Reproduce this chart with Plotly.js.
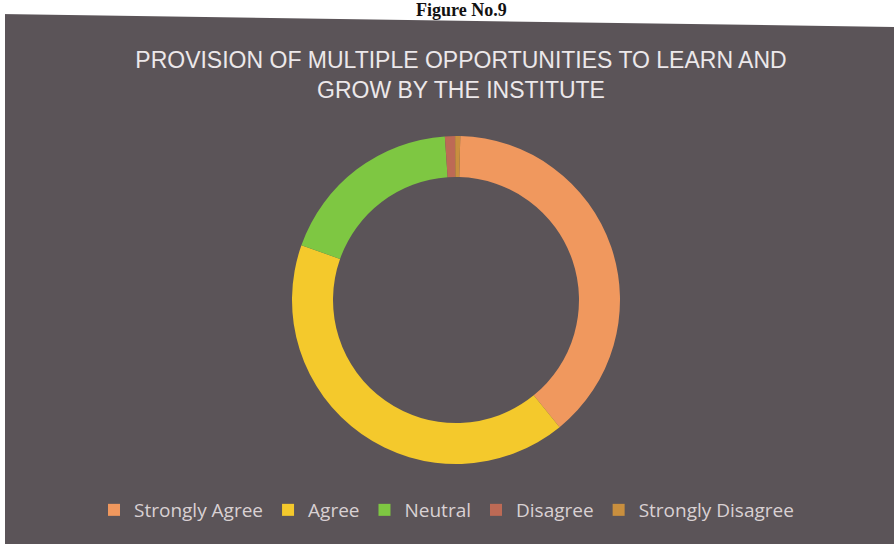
<!DOCTYPE html>
<html>
<head>
<meta charset="utf-8">
<script src="https://cdn.plot.ly/plotly-3.0.1.min.js"></script>
<style>html,body{margin:0;padding:0;background:#fff;}#chart{width:894px;height:544px;}</style>
</head>
<body>
<div id="chart"></div>
<script>
const categories = ["Strongly Agree", "Agree", "Neutral", "Disagree", "Strongly Disagree"];
const values = [38.7, 41.3, 18.5, 1.0, 0.5];
const sliceColors = ["#f0985e", "#f4c92c", "#7ec742", "#bd6a55", "#c98f3e"];
const chartTitle = "PROVISION OF MULTIPLE OPPORTUNITIES TO LEARN AND<br>GROW BY THE INSTITUTE";
const figureLabel = "Figure No.9";

const W = 894, H = 544;
const py = p => 1 - p / H;
const px = p => p / W;

const trace = {
  type: "pie",
  labels: categories,
  values: values,
  marker: {colors: sliceColors, line: {width: 0}},
  hole: 0.75,
  sort: false,
  direction: "clockwise",
  rotation: 1.5,
  textinfo: "none",
  hoverinfo: "label+percent",
  domain: {x: [px(292), px(620)], y: [py(464), py(136)]}
};

const layout = {
  width: W, height: H,
  margin: {l: 0, r: 0, t: 0, b: 0},
  paper_bgcolor: "#5b5458",
  showlegend: true,
  title: {
    text: chartTitle,
    x: px(461), xanchor: "center",
    y: py(68), yanchor: "top", yref: "container",
    font: {family: "Liberation Sans, Arial, sans-serif", size: 23, color: "#ece8ea"}
  },
  legend: {
    orientation: "h",
    x: px(94), xanchor: "left",
    y: py(510), yanchor: "middle",
    font: {family: "Open Sans, sans-serif", size: 19, color: "#d9d1d3"},
    bgcolor: "rgba(0,0,0,0)",
    traceorder: "normal"
  },
  shapes: [
    {type: "path", xref: "paper", yref: "paper", layer: "above",
     path: `M 0 1 L 1 1 L 1 ${py(27)} L 0 ${py(14)} Z`,
     fillcolor: "#ffffff", line: {width: 0}},
    {type: "rect", xref: "paper", yref: "paper", layer: "above",
     x0: 0, x1: px(5), y0: 0, y1: 1, fillcolor: "#ffffff", line: {width: 0}}
  ],
  annotations: [
    {text: "<b>" + figureLabel + "</b>", xref: "paper", yref: "paper",
     x: px(461), y: py(10), xanchor: "center", yanchor: "middle", showarrow: false,
     font: {family: "Liberation Serif, Times New Roman, serif", size: 18, color: "#111111"}}
  ]
};

Plotly.newPlot("chart", [trace], layout, {displayModeBar: false, staticPlot: true});
</script>
</body>
</html>
